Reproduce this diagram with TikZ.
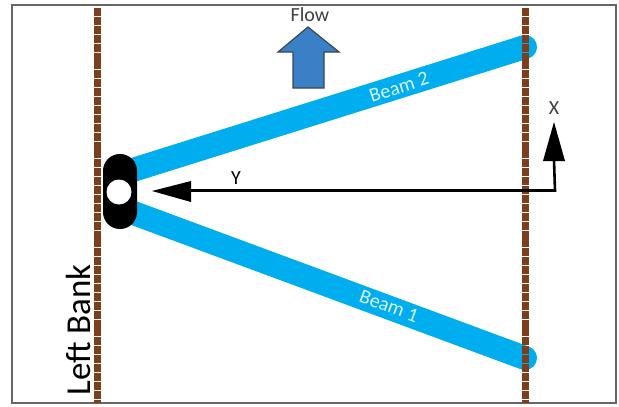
\documentclass[tikz,border=0pt]{standalone}
\usepackage{fontspec}
\setmainfont{Carlito}
\definecolor{beamblue}{HTML}{00AEEF}
\definecolor{bankbrown}{HTML}{7B3F1D}
\definecolor{flowblue}{HTML}{3A80C6}
\definecolor{flowedge}{HTML}{3A4654}
\definecolor{framegray}{HTML}{666666}
\tikzset{
  beam/.style={line width=24pt,draw=beamblue,line cap=round},
  bank/.style={line width=7pt,draw=bankbrown,dash pattern=on 8pt off 0.9pt},
  axisline/.style={line width=2.6pt,draw=black},
  axishead/.style={fill=black,draw=none},
  beamlabel/.style={text=white!85!beamblue,font=\fontsize{20}{20}\selectfont,inner sep=0pt},
  plainlabel/.style={text=black!75,font=\fontsize{20}{20}\selectfont,inner sep=0pt},
}
\begin{document}
\begin{tikzpicture}[x=1pt,y=-1pt]
\useasboundingbox (0,0) rectangle (619,407);
\fill[white] (0,0) rectangle (619,407);
\draw[framegray,line width=2.2pt] (12,5) rectangle (616,403);
% named points
\coordinate (hinge2) at (120,174);
\coordinate (hinge1) at (120,208);
\coordinate (end2) at (525,47);
\coordinate (end1) at (525,358);
\coordinate (corner) at (555,190.5);
% beams
\draw[beam] (hinge2) -- (end2);
\draw[beam] (hinge1) -- (end1);
% banks
\draw[bank] (97,8) -- (97,403);
\draw[bank] (525,8) -- (525,403);
% abutment
\fill[black,rounded corners=16.9pt] (103,154) rectangle (137,229);
\fill[white] (119,192) circle[radius=12.5];
% axes
\coordinate (ytip) at (152,191);
\coordinate (xtip) at (554,122);
\draw[axisline] (190,190.5) -- (corner) -- (554,160);
\fill[axishead] (ytip) -- (191,181) -- (191,202) -- cycle;
\fill[axishead] (xtip) -- (543,161) -- (565,161) -- cycle;
% flow arrow
\draw[flowedge,fill=flowblue,line width=1.2pt,line join=miter] (308,27) -- (339,52) -- (324,52) -- (324,88) -- (293,88) -- (293,52) -- (278,52) -- cycle;
% labels
\node[plainlabel] (flowlabel) at (310,14.5) {Flow};
\node[plainlabel] (xlabel) at (554,108) {X};
\node[plainlabel,text=black] (ylabel) at (236,178) {Y};
\node[beamlabel,rotate=18] (beam2label) at (399,87) {Beam 2};
\node[beamlabel,rotate=-20.5] (beam1label) at (389,306) {Beam 1};
\node[inner sep=0pt,rotate=90,text=black,font=\fontsize{35}{35}\selectfont] (banklabel) at (78,330) {Left Bank};
\end{tikzpicture}
\end{document}
